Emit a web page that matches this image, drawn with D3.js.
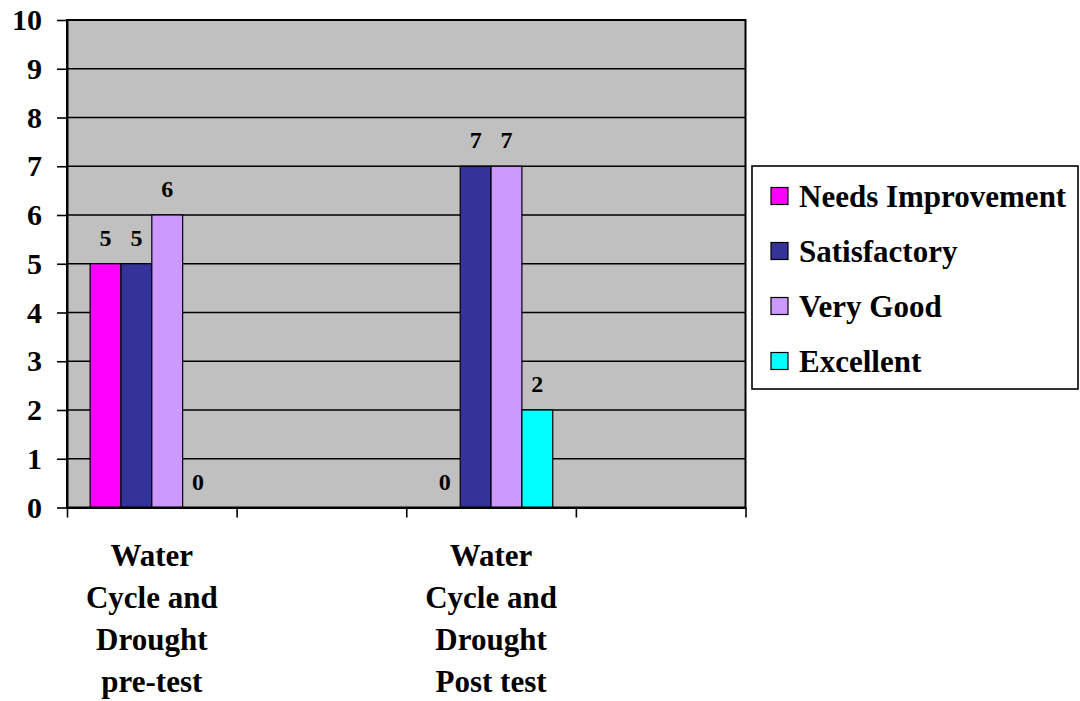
<!DOCTYPE html>
<html>
<head>
<meta charset="utf-8">
<script src="https://cdn.jsdelivr.net/npm/d3@7"></script>
<style>
  html, body { margin: 0; padding: 0; background: #ffffff; }
  svg { display: block; }
  text { font-family: "Liberation Serif", "Times New Roman", serif; font-weight: bold; fill: #000; }
</style>
</head>
<body>
<svg id="chart" width="1080" height="701"></svg>
<script>
// Category slots along the x axis (two of them carry no label and no bars)
const categories = ["pre", "blank1", "post", "blank2"];
const categoryLines = [
  ["Water", "Cycle and", "Drought", "pre-test"],
  [],
  ["Water", "Cycle and", "Drought", "Post test"],
  []
];

// Rating series and their counts per category (null = no bar)
const seriesNames = ["Needs Improvement", "Satisfactory", "Very Good", "Excellent"];
const seriesColors = ["#FF00FF", "#333399", "#CC99FF", "#00FFFF"];
const needsImprovement = [5, null, 0, null];
const satisfactory     = [5, null, 7, null];
const veryGood         = [6, null, 7, null];
const excellent        = [0, null, 2, null];
const seriesValues = [needsImprovement, satisfactory, veryGood, excellent];

const yTicks = [0, 1, 2, 3, 4, 5, 6, 7, 8, 9, 10];

const svg = d3.select("#chart");
const plot = { left: 67, right: 745.5, top: 20, bottom: 507.5 };

const x0 = d3.scaleBand().domain(categories).range([plot.left, plot.right]).padding(0);
const x1 = d3.scaleBand().domain(seriesNames).range([0, x0.bandwidth()])
  .paddingInner(0).paddingOuter(0.75);
const y = d3.scaleLinear().domain([0, 10]).range([plot.bottom, plot.top]);
const color = d3.scaleOrdinal().domain(seriesNames).range(seriesColors);

// Plot background
svg.append("rect")
  .attr("x", plot.left).attr("y", plot.top)
  .attr("width", plot.right - plot.left).attr("height", plot.bottom - plot.top)
  .attr("fill", "#C0C0C0");

// Horizontal gridlines
svg.append("g").selectAll("line")
  .data(yTicks.filter(d => d > 0 && d < 10))
  .join("line")
  .attr("x1", plot.left).attr("x2", plot.right)
  .attr("y1", d => y(d)).attr("y2", d => y(d))
  .attr("stroke", "#000").attr("stroke-width", 1.6);

// Bars
const rows = [];
seriesNames.forEach((s, si) => {
  categories.forEach((c, ci) => {
    const v = seriesValues[si][ci];
    if (v !== null) rows.push({ series: s, category: c, value: v });
  });
});

svg.append("g").selectAll("rect")
  .data(rows.filter(d => d.value > 0))
  .join("rect")
  .attr("x", d => x0(d.category) + x1(d.series))
  .attr("y", d => y(d.value))
  .attr("width", x1.bandwidth())
  .attr("height", d => y(0) - y(d.value))
  .attr("fill", d => color(d.series))
  .attr("stroke", "#000").attr("stroke-width", 1.2);

// Value labels above the bars
svg.append("g").selectAll("text")
  .data(rows)
  .join("text")
  .attr("x", d => x0(d.category) + x1(d.series) + x1.bandwidth() / 2)
  .attr("y", d => y(d.value) - 18)
  .attr("text-anchor", "middle")
  .style("font-size", "24px")
  .text(d => d.value);

// Plot frame
svg.append("rect")
  .attr("x", plot.left).attr("y", plot.top)
  .attr("width", plot.right - plot.left).attr("height", plot.bottom - plot.top)
  .attr("fill", "none").attr("stroke", "#000").attr("stroke-width", 2);

// Y axis
const yAxis = svg.append("g")
  .attr("transform", `translate(${plot.left},0)`)
  .call(d3.axisLeft(y).tickValues(yTicks).tickSize(10).tickPadding(15).tickSizeOuter(0));
yAxis.select(".domain").attr("stroke", "#000").attr("stroke-width", 2);
yAxis.selectAll(".tick line").attr("stroke", "#000").attr("stroke-width", 1.6);
yAxis.selectAll(".tick text")
  .style("font-size", "30px").style("font-family", "'Liberation Serif', serif")
  .style("font-weight", "bold").attr("fill", "#000");

// X axis: tick marks sit on the category boundaries
const xTickPos = d3.scaleLinear().domain([0, categories.length]).range([plot.left, plot.right]);
const xAxis = svg.append("g")
  .attr("transform", `translate(0,${plot.bottom})`)
  .call(d3.axisBottom(xTickPos).tickValues(d3.range(categories.length + 1))
    .tickSize(10).tickSizeOuter(0).tickFormat(""));
xAxis.select(".domain").attr("stroke", "#000").attr("stroke-width", 2);
xAxis.selectAll(".tick line").attr("stroke", "#000").attr("stroke-width", 1.6);

// Category labels (multi-line)
const catLabel = svg.append("g").selectAll("text")
  .data(categories.map((c, i) => ({ c, lines: categoryLines[i] })))
  .join("text")
  .attr("text-anchor", "middle")
  .style("font-size", "31px");
catLabel.selectAll("tspan")
  .data(d => d.lines.map(l => ({ c: d.c, l })))
  .join("tspan")
  .attr("x", d => x0(d.c) + x0.bandwidth() / 2)
  .attr("y", (d, i) => 566 + i * 42)
  .text(d => d.l);

// Legend
const legend = svg.append("g");
legend.append("rect")
  .attr("x", 752).attr("y", 166).attr("width", 326).attr("height", 223)
  .attr("fill", "#fff").attr("stroke", "#000").attr("stroke-width", 1.6);
const item = legend.selectAll("g.item")
  .data(seriesNames)
  .join("g").attr("class", "item")
  .attr("transform", (d, i) => `translate(771,${196 + i * 55})`);
item.append("rect")
  .attr("x", 0).attr("y", -8.5).attr("width", 17).attr("height", 17)
  .attr("fill", d => color(d)).attr("stroke", "#000").attr("stroke-width", 1.2);
item.append("text")
  .attr("x", 28).attr("y", 0).attr("dy", "0.35em")
  .style("font-size", "31px")
  .text(d => d);
</script>
</body>
</html>
